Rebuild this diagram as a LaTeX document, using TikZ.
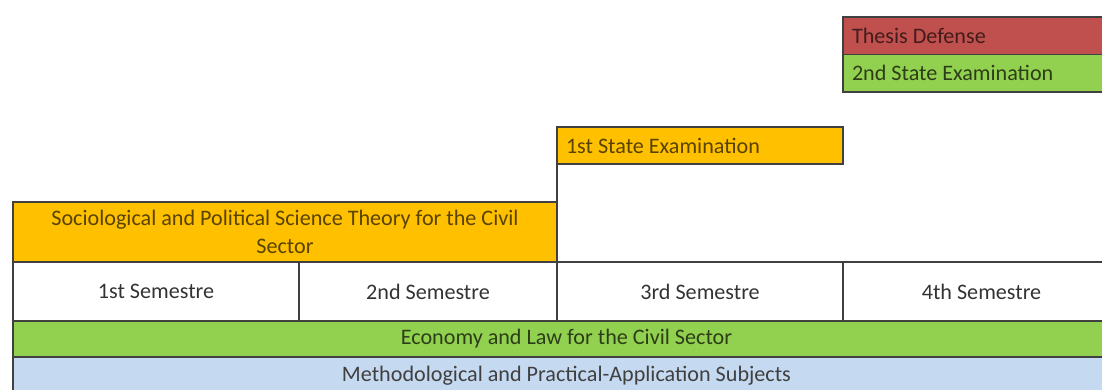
\documentclass[tikz,border=0pt]{standalone}
\usepackage{fontspec}
\setmainfont{Carlito}

\definecolor{gridline}{HTML}{404040}
\definecolor{defensered}{HTML}{C0504D}
\definecolor{examgreen}{HTML}{92D050}
\definecolor{theoryorange}{HTML}{FFC000}
\definecolor{methodblue}{HTML}{C5D9F1}

\tikzset{
  cell/.style={draw=gridline, line width=1.1pt, inner xsep=6.75pt, inner ysep=0pt,
    outer sep=0pt, anchor=north west, font=\fontsize{16.6}{21}\selectfont},
}
\newcommand{\lefttext}[2]{\makebox[#1][l]{#2}}

\begin{document}
\begin{tikzpicture}[x=0.75pt, y=-0.75pt]
  \useasboundingbox (0,0) rectangle (1102,389);
  \clip (0,0) rectangle (1102,389);

  % Examinations on top
  \node[cell, minimum height=28.125pt, fill=defensered, text=defensered!35!black]
    (defense) at (843,17) {\lefttext{194.25pt}{Thesis Defense}};
  \node[cell, minimum height=28.125pt, fill=examgreen, text=examgreen!30!black]
    (exam2) at (843,54.5) {\lefttext{194.25pt}{2nd State Examination}};
  \node[cell, minimum height=27.75pt, fill=theoryorange, text=theoryorange!35!black]
    (exam1) at (557,127) {\lefttext{201pt}{1st State Examination}};

  % Theory block
  \node[cell, align=center, minimum width=408pt, minimum height=45pt,
    fill=theoryorange, text=theoryorange!35!black]
    (theory) at (13,202) {Sociological and Political Science Theory for the Civil\\Sector};

  % Semesters
  \node[cell, minimum width=214.5pt, minimum height=44.25pt, text=black!80] (sem1) at (13,262) {1st Semestre};
  \node[cell, minimum width=193.5pt, minimum height=44.25pt, text=black!80] (sem2) at (299,262) {2nd Semestre};
  \node[cell, minimum width=214.5pt, minimum height=44.25pt, text=black!80] (sem3) at (557,262) {3rd Semestre};
  \node[cell, minimum width=207.75pt, minimum height=44.25pt, text=black!80] (sem4) at (843,262) {4th Semestre};

  % Line below the 1st State Examination
  \draw[gridline, line width=1.1pt] (exam1.south west) -- (sem3.north west);

  % Subjects over all semesters
  \node[cell, minimum width=830.25pt, minimum height=27pt, fill=examgreen, text=examgreen!30!black]
    (economy) at (13,321) {Economy and Law for the Civil Sector};
  \node[cell, minimum width=830.25pt, minimum height=28.5pt, fill=methodblue, text=black!75]
    (methods) at (13,357) {Methodological and Practical-Application Subjects};

\end{tikzpicture}
\end{document}
